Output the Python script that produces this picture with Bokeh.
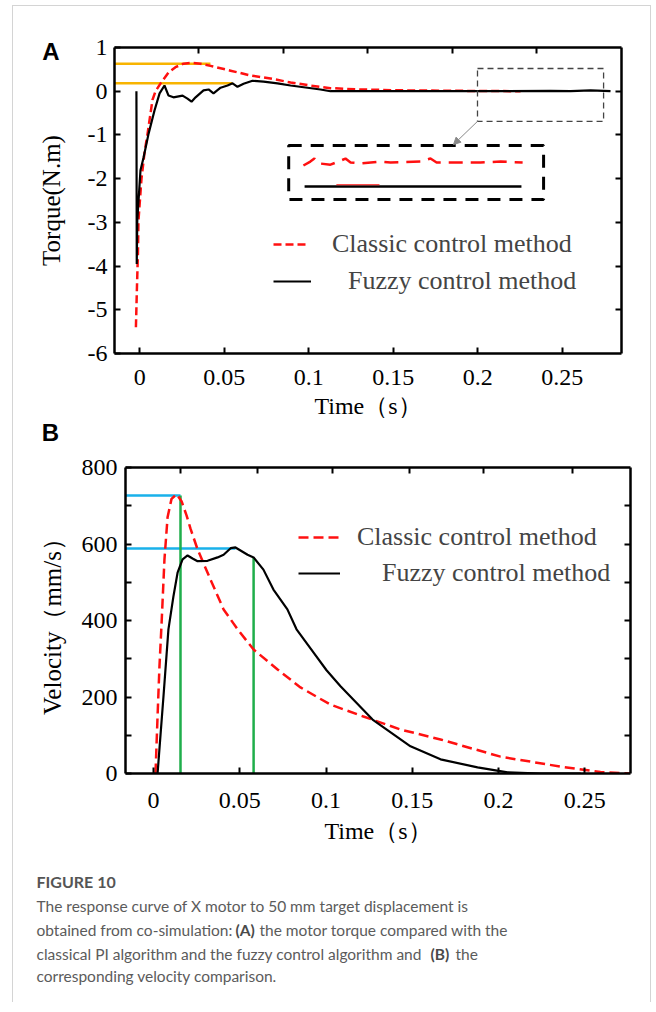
from bokeh.plotting import figure
from bokeh.models import (Range1d, LinearAxis, FixedTicker, Legend, LegendItem,
                          Arrow, NormalHead)
from bokeh.embed import file_html
from bokeh.resources import INLINE
from bokeh.core.properties import value

# ---------------- Panel A data (torque) ----------------
a_classic_t = [-0.0023, -0.0017, -0.0011, -0.0008, 0.0010, 0.0028, 0.0046, 0.0075, 0.0093,
               0.0123, 0.0170, 0.0211, 0.0259, 0.0312, 0.0359, 0.0418, 0.0537, 0.0655,
               0.0773, 0.0892, 0.1010, 0.1128, 0.1306, 0.1543, 0.1839, 0.2253]
a_classic_v = [-5.4, -4.5, -3.7, -2.96, -2.0, -1.4, -0.97, -0.2, 0.0,
               0.18, 0.43, 0.55, 0.63, 0.65, 0.63, 0.58, 0.47, 0.36,
               0.29, 0.20, 0.13, 0.07, 0.04, 0.02, 0.01, 0.0]
a_fuzzy_t = [-0.0020, -0.0018, -0.0015, 0.0004, 0.0022, 0.0052, 0.0087, 0.0117, 0.0146,
             0.0170, 0.0199, 0.0253, 0.0282, 0.0306, 0.0330, 0.0377, 0.0407, 0.0436,
             0.0478, 0.0519, 0.0549, 0.0578, 0.0614, 0.0667, 0.0732, 0.0815, 0.0892,
             0.0992, 0.1069, 0.1128, 0.1247, 0.1543, 0.1839, 0.2134, 0.2430, 0.2549,
             0.2667, 0.2785]
a_fuzzy_v = [0.0, -3.95, -2.96, -1.81, -1.52, -0.97, -0.44, -0.05, 0.13,
             -0.10, -0.14, -0.10, -0.17, -0.24, -0.14, 0.02, 0.04, -0.05,
             0.08, 0.13, 0.18, 0.10, 0.17, 0.24, 0.22, 0.18, 0.13,
             0.08, 0.04, 0.0, 0.0, 0.0, 0.0, 0.0, 0.01, 0.0,
             0.02, 0.0]
a_peak_levels = [0.63, 0.18]
a_peak_t_end = [0.0418, 0.0548]
a_zoom_src_t = [0.1998, 0.2744]
a_zoom_src_v = [-0.69, 0.52]
a_inset_t = [0.0881, 0.2389]
a_inset_v = [-2.478, -1.243]
a_inset_red_t = [0.0968, 0.1009, 0.1033, 0.1057, 0.1128, 0.1187, 0.1217, 0.1247, 0.1306,
                 0.1424, 0.1484, 0.1661, 0.1720, 0.1756, 0.1898, 0.2016, 0.2135, 0.2265]
a_inset_red_v = [-1.70, -1.61, -1.54, -1.65, -1.68, -1.59, -1.54, -1.63, -1.65,
                 -1.61, -1.63, -1.61, -1.54, -1.63, -1.63, -1.63, -1.61, -1.63]
a_inset_black_t = [0.0975, 0.2258]
a_inset_black_v = [-2.18, -2.18]
a_inset_redbit_t = [0.1163, 0.1418]
a_inset_redbit_v = [-2.14, -2.14]
a_arrow_end = [0.1856, -1.22]
a_xticks = [0, 0.05, 0.1, 0.15, 0.2, 0.25]
a_xtick_labels = ["0", "0.05", "0.1", "0.15", "0.2", "0.25"]
a_yticks = [1, 0, -1, -2, -3, -4, -5, -6]
a_ytick_labels = ["1", "0", "-1", "-2", "-3", "-4", "-5", "-6"]
a_top_ticks = [0.0349, 0.0852, 0.1349, 0.1852, 0.2349]
a_right_ticks = [0, -1, -2, -3, -4, -5]
a_letter_at = 0.91

# ---------------- Panel B data (velocity) ----------------
b_classic_t = [0.0011, 0.0023, 0.0034, 0.0046, 0.0063, 0.0081, 0.0104, 0.0133, 0.0162,
               0.0191, 0.0214, 0.0255, 0.0330, 0.0406, 0.0487, 0.0580, 0.0719, 0.0852,
               0.1026, 0.1217, 0.1432, 0.1664, 0.2012, 0.2360, 0.2592, 0.2766]
b_classic_v = [0, 150, 280, 390, 560, 670, 718, 730, 712,
               675, 640, 586, 507, 429, 377, 324, 272, 225,
               180, 149, 115, 89, 44, 18, 4, 0]
b_fuzzy_t = [0.0023, 0.0040, 0.0057, 0.0086, 0.0115, 0.0139, 0.0168, 0.0197, 0.0226,
             0.0255, 0.0313, 0.0371, 0.0406, 0.0447, 0.0475, 0.0545, 0.0580, 0.0637,
             0.0695, 0.0776, 0.0829, 0.0928, 0.1003, 0.1084, 0.1270, 0.1490, 0.1664,
             0.1879, 0.2053, 0.2245, 0.2477]
b_fuzzy_v = [0, 100, 200, 377, 463, 525, 560, 570, 562,
             555, 556, 565, 572, 589, 591, 572, 565, 533,
             481, 429, 377, 316, 270, 228, 141, 71, 37,
             16, 3, 0, 0]
b_peak_levels = [727, 588]
b_peak_t_end = [0.0156, 0.0475]
b_mark_t = [0.0156, 0.0580]
b_mark_v = [727, 565]
b_xticks = [0, 0.05, 0.1, 0.15, 0.2, 0.25]
b_xtick_labels = ["0", "0.05", "0.1", "0.15", "0.2", "0.25"]
b_yticks = [0, 200, 400, 600, 800]
b_ytick_labels = ["0", "200", "400", "600", "800"]
b_yminor = [100, 300, 500, 700]
b_top_ticks = [0.0156, 0.0603, 0.1038, 0.1484, 0.1914, 0.2430]
b_right_ticks = [100, 200, 300, 400, 500, 600, 700]

series_names = ["Classic control method", "Fuzzy control method"]
panel_letters = ["A", "B"]

SERIF = "Liberation Serif"
RED = "#ff1010"
ORANGE = "#f8b400"
CYAN = "#19b1ea"
GREEN = "#1fae4b"
FRAME_GRAY = "1px solid #d4d4d4"
W = 639


def style_axis(ax):
    ax.axis_line_width = 2.5
    ax.axis_line_color = "black"
    ax.major_tick_in = 6
    ax.major_tick_out = 0
    ax.major_tick_line_width = 2
    ax.minor_tick_in = 0
    ax.minor_tick_out = 0
    ax.major_label_text_font = SERIF
    ax.major_label_text_font_size = "24px"
    ax.major_label_text_color = "black"
    ax.axis_label_text_font = SERIF
    ax.axis_label_text_font_size = "24px"
    ax.axis_label_text_font_style = "normal"
    ax.axis_label_text_color = "black"


def frame_axis(p, ticks, side):
    ax = LinearAxis(ticker=FixedTicker(ticks=ticks))
    style_axis(ax)
    ax.major_label_overrides = {t: "" for t in ticks}
    ax.major_label_text_font_size = "1px"
    ax.major_label_standoff = 0
    p.add_layout(ax, side)
    return ax


def make_panel(height, xr, yr, borders, styles):
    p = figure(width=W, height=height, x_range=Range1d(*xr), y_range=Range1d(*yr),
               output_backend="svg", toolbar_location=None, title=None,
               min_border_left=borders[0], min_border_right=borders[1],
               min_border_top=borders[2], min_border_bottom=borders[3], styles=styles)
    p.xgrid.visible = False
    p.ygrid.visible = False
    p.outline_line_color = None
    return p


def legend_row(renderer, label, loc, glyph_w, standoff):
    return Legend(items=[LegendItem(label=label, renderers=[renderer])],
                  location=loc, padding=0, margin=0, glyph_width=glyph_w, glyph_height=30,
                  label_height=30, spacing=0, label_standoff=standoff,
                  label_text_font=SERIF, label_text_font_size="26px",
                  border_line_alpha=0, background_fill_alpha=0)


side_styles = {"border-left": FRAME_GRAY, "border-right": FRAME_GRAY, "margin-left": "12px"}
top_styles = dict(side_styles, **{"border-top": FRAME_GRAY, "margin-top": "5px"})
strip_styles = dict(side_styles, **{"margin-top": "-20px"})

# ================= Panel A =================
pA = make_panel(421, (-0.01497, 0.2850), (-6, 1), (101, 31, 41, 74), top_styles)
xa = pA.xaxis[0]
xa.ticker = FixedTicker(ticks=a_xticks)
style_axis(xa)
xa.major_label_overrides = dict(zip(a_xticks, a_xtick_labels))
xa.axis_label = "Time（s）"
xa.major_label_standoff = 16
xa.axis_label_standoff = 5
ya = pA.yaxis[0]
ya.ticker = FixedTicker(ticks=a_yticks)
style_axis(ya)
ya.major_label_overrides = dict(zip(a_yticks, a_ytick_labels))
ya.axis_label = "Torque(N.m)"
ya.axis_label_text_font_size = "25px"
ya.major_label_standoff = 7
ya.axis_label_standoff = 20
frame_axis(pA, a_top_ticks, "above")
frame_axis(pA, a_right_ticks, "right")

# panel letter "A" as an outer, line-less axis label
letter_ax = LinearAxis(ticker=FixedTicker(ticks=[a_letter_at]),
                       major_label_overrides={a_letter_at: panel_letters[0]})
letter_ax.axis_line_color = None
letter_ax.major_tick_line_color = None
letter_ax.minor_tick_line_color = None
letter_ax.major_label_text_font = "Liberation Sans"
letter_ax.major_label_text_font_style = "bold"
letter_ax.major_label_text_font_size = "24px"
letter_ax.major_label_text_color = "black"
letter_ax.major_label_standoff = -31
pA.add_layout(letter_ax, "left")

for lvl, tend in zip(a_peak_levels, a_peak_t_end):
    pA.line([-0.01497, tend], [lvl, lvl], line_color=ORANGE, line_width=2.5)

r_a_classic = pA.line(a_classic_t, a_classic_v, line_color=RED, line_width=2.5,
                      line_dash="8 4")
r_a_fuzzy = pA.line(a_fuzzy_t, a_fuzzy_v, line_color="black", line_width=2.2)

pA.quad(left=[a_zoom_src_t[0]], right=[a_zoom_src_t[1]], bottom=[a_zoom_src_v[0]],
        top=[a_zoom_src_v[1]], fill_alpha=0, line_color="#444444", line_width=1.3,
        line_dash="6 4")
pA.quad(left=[a_inset_t[0]], right=[a_inset_t[1]], bottom=[a_inset_v[0]],
        top=[a_inset_v[1]], fill_alpha=0, line_color="black", line_width=3,
        line_dash="13 9")
pA.line(a_inset_red_t, a_inset_red_v, line_color=RED, line_width=2.5, line_dash="14 8")
pA.line(a_inset_black_t, a_inset_black_v, line_color="black", line_width=2.5)
pA.line(a_inset_redbit_t, a_inset_redbit_v, line_color=RED, line_width=1.2)
pA.add_layout(Arrow(x_start=a_zoom_src_t[0], y_start=a_zoom_src_v[0],
                    x_end=a_arrow_end[0], y_end=a_arrow_end[1], line_color="#888888",
                    line_width=1,
                    end=NormalHead(size=7, fill_color="#888888", line_color="#888888")))

pA.add_layout(legend_row(r_a_classic, series_names[0], (159, 94), 36, 23))
pA.add_layout(legend_row(r_a_fuzzy, series_names[1], (159, 57), 38, 37))

# ================= transparent strip with panel letter "B" =================
pS = figure(width=W, height=40, x_range=Range1d(0, W), y_range=Range1d(40, 0),
            output_backend="svg", toolbar_location=None, min_border=0, title=None,
            x_axis_location=None, y_axis_location=None, styles=strip_styles)
pS.grid.visible = False
pS.outline_line_color = None
pS.background_fill_color = None
pS.border_fill_color = None
pS.text(x=[37], y=[26], text=[panel_letters[1]], text_font=value("Liberation Sans"),
        text_font_style="bold", text_font_size="24px", text_color="black",
        text_align="center", text_baseline="middle")

# ================= Panel B =================
pB = make_panel(410, (-0.0163, 0.2766), (0, 800), (112, 22, 21, 83), side_styles)
xb = pB.xaxis[0]
xb.ticker = FixedTicker(ticks=b_xticks)
style_axis(xb)
xb.major_label_overrides = dict(zip(b_xticks, b_xtick_labels))
xb.axis_label = "Time（s）"
xb.major_label_standoff = 19
xb.axis_label_standoff = 7
yb = pB.yaxis[0]
yb.ticker = FixedTicker(ticks=b_yticks, minor_ticks=b_yminor)
style_axis(yb)
yb.major_label_overrides = dict(zip(b_yticks, b_ytick_labels))
yb.minor_tick_in = 6
yb.minor_tick_line_width = 2
yb.axis_label = "Velocity（mm/s）"
yb.axis_label_text_font_size = "25px"
yb.major_label_standoff = 8
yb.axis_label_standoff = 13
frame_axis(pB, b_top_ticks, "above")
frame_axis(pB, b_right_ticks, "right")

for lvl, tend in zip(b_peak_levels, b_peak_t_end):
    pB.line([-0.0163, tend], [lvl, lvl], line_color=CYAN, line_width=2.5)
for tm, vm in zip(b_mark_t, b_mark_v):
    pB.line([tm, tm], [0, vm], line_color=GREEN, line_width=2.5)

r_b_classic = pB.line(b_classic_t, b_classic_v, line_color=RED, line_width=2.5,
                      line_dash="10 5")
r_b_fuzzy = pB.line(b_fuzzy_t, b_fuzzy_v, line_color="black", line_width=2.2)

pB.add_layout(legend_row(r_b_classic, series_names[0], (173, 221), 42, 17))
pB.add_layout(legend_row(r_b_fuzzy, series_names[1], (173, 185), 42, 42))

# ================= Caption =================
pC = figure(width=W, height=146, x_range=Range1d(0, W), y_range=Range1d(146, 0),
            output_backend="svg", toolbar_location=None, min_border=0, title=None,
            x_axis_location=None, y_axis_location=None, styles=side_styles)
pC.grid.visible = False
pC.outline_line_color = None

CAP = "#5b5b5b"
cap_font = value("Lato")
pC.text(x=[23], y=[24.7], text=["FIGURE 10"], text_font=cap_font, text_font_style="bold",
        text_font_size="16px", text_color="#555555", text_baseline="middle")
normal_x = [23, 23, 246, 23, 442, 23]
normal_y = [49.7, 73.7, 73.7, 97, 97, 119.7]
normal_s = ["The response curve of X motor to 50 mm target displacement is",
            "obtained from co-simulation:",
            "the motor torque compared with the",
            "classical PI algorithm and the fuzzy control algorithm and",
            "the",
            "corresponding velocity comparison."]
pC.text(x=normal_x, y=normal_y, text=normal_s, text_font=cap_font,
        text_font_size="15.5px", text_color=CAP, text_baseline="middle")
pC.text(x=[222, 417], y=[73.7, 97], text=["(A)", "(B)"], text_font=cap_font,
        text_font_style="bold", text_font_size="15.5px", text_color="#4a4a4a",
        text_baseline="middle")

open("out.html", "w").write(file_html([pA, pS, pB, pC], INLINE))
